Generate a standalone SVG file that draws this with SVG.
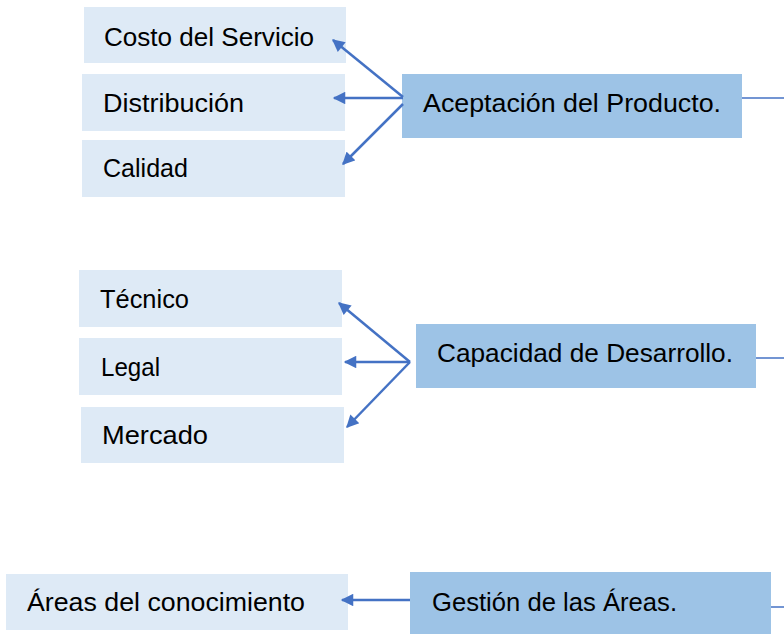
<svg xmlns="http://www.w3.org/2000/svg" width="784" height="634" viewBox="0 0 784 634">
<style>
.l{fill:#DEEAF6}
.d{fill:#9DC3E6}
text{font-family:"Liberation Sans",Arial,sans-serif;font-size:26px;fill:#000}
.c{stroke:#4472C4;stroke-width:2.5;fill:none}
.c2{stroke:#4472C4;stroke-width:1.5;fill:none}
</style>
<defs>
<marker id="ah" viewBox="0 0 10 10" refX="9" refY="5" markerWidth="5.6" markerHeight="5" orient="auto" markerUnits="strokeWidth">
<path d="M0,0 L10,5 L0,10 z" fill="#4472C4"/>
</marker>
</defs>
<rect width="784" height="634" fill="#fff"/>
<g id="costo"><rect class="l" x="84" y="7" width="262" height="56"/><text x="104" y="46" textLength="210" lengthAdjust="spacingAndGlyphs">Costo del Servicio</text></g>
<g id="distribucion"><rect class="l" x="82" y="74" width="263" height="57"/><text x="103" y="112" textLength="141" lengthAdjust="spacingAndGlyphs">Distribución</text></g>
<g id="calidad"><rect class="l" x="82" y="140" width="263" height="57"/><text x="103" y="177" textLength="85" lengthAdjust="spacingAndGlyphs">Calidad</text></g>
<g id="aceptacion"><rect class="d" x="402" y="74" width="340" height="64"/><text x="423" y="112" textLength="298" lengthAdjust="spacingAndGlyphs">Aceptación del Producto.</text></g>
<g id="tecnico"><rect class="l" x="79" y="270" width="263" height="57"/><text x="100" y="308" textLength="89" lengthAdjust="spacingAndGlyphs">Técnico</text></g>
<g id="legal"><rect class="l" x="79" y="338" width="263" height="57"/><text x="101" y="376" textLength="59" lengthAdjust="spacingAndGlyphs">Legal</text></g>
<g id="mercado"><rect class="l" x="81" y="407" width="263" height="56"/><text x="102" y="444" textLength="106" lengthAdjust="spacingAndGlyphs">Mercado</text></g>
<g id="capacidad"><rect class="d" x="416" y="324" width="340" height="64"/><text x="437" y="362" textLength="296" lengthAdjust="spacingAndGlyphs">Capacidad de Desarrollo.</text></g>
<g id="areas"><rect class="l" x="6" y="574" width="342" height="56"/><text x="27" y="611" textLength="278" lengthAdjust="spacingAndGlyphs">Áreas del conocimiento</text></g>
<g id="gestion"><rect class="d" x="410" y="572" width="361" height="62"/><text x="432" y="611" textLength="245" lengthAdjust="spacingAndGlyphs">Gestión de las Áreas.</text></g>
<g id="connectors">
<path class="c" d="M403,97 L333,40" marker-end="url(#ah)"/>
<path class="c" d="M403,98 L334,98" marker-end="url(#ah)"/>
<path class="c" d="M403,104 L343,164" marker-end="url(#ah)"/>
<path class="c2" d="M742,98 L784,98"/>
<path class="c" d="M410,362 L339,303" marker-end="url(#ah)"/>
<path class="c" d="M410,362 L345,362" marker-end="url(#ah)"/>
<path class="c" d="M410,362 L347,427" marker-end="url(#ah)"/>
<path class="c2" d="M756,358 L784,358"/>
<path class="c" d="M410,600 L342,600" marker-end="url(#ah)"/>
<path class="c2" d="M771,607 L784,607"/>
</g>
</svg>
